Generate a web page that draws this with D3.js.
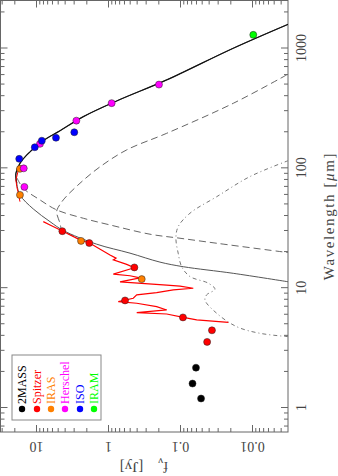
<!DOCTYPE html>
<html>
<head>
<meta charset="utf-8">
<script src="https://cdn.jsdelivr.net/npm/d3@7"></script>
<style>
body { margin: 0; background: #fff; }
svg { display: block; }
</style>
</head>
<body>
<svg id="chart" width="338" height="476"></svg>
<script>
// photometry, [wavelength um, flux Jy]
var twomass  = [[1.2, 0.051], [1.6, 0.067], [2.17, 0.060]];
var spitzer  = [[3.56, 0.042], [4.45, 0.036], [5.7, 0.091], [7.9, 0.58], [14.9, 0.43], [23.8, 1.82], [29.9, 4.31]];
var iras     = [[11.9, 0.34], [24.8, 2.37], [60, 16.7], [99, 16.7]];
var herschel = [[70, 14.5], [100, 14.8], [160, 8.8], [250, 2.75], [350, 0.89], [500, 0.196]];
var iso      = [[120, 17.1], [150, 10.4], [170, 8.3], [180, 5.28], [200, 2.94]];
var iram     = [[1300, 0.0096]];

var legendNames  = ['2MASS', 'Spitzer', 'IRAS', 'Herschel', 'ISO', 'IRAM'];
var legendColors = ['#000000', '#ff0000', '#ff8000', '#ff00ff', '#0000ff', '#00ff00'];

// spectra
var irsSpec = [[35.9, 7.92], [33.7, 6.39], [30.0, 4.31], [25.3, 2.45], [23.7, 1.78], [18.9, 0.938], [17.8, 0.774],
  [17.2, 0.844], [15.8, 0.55], [14.8, 0.431], [13.1, 0.844], [12.7, 0.495], [12.2, 0.36], [11.3, 0.681],
  [10.6, 0.153], [10.4, 0.1], [9.98, 0.0654], [9.66, 0.124], [9.17, 0.211], [8.78, 0.399], [8.24, 0.446],
  [7.71, 0.72], [7.48, 0.399], [7.01, 0.211], [6.58, 0.153], [6.24, 0.399], [6.09, 0.153], [5.71, 0.09],
  [5.43, 0.0586], [5.19, 0.0213]];
var farSpec = [[103, 17.6], [93.8, 17.8], [80, 19.0], [70.3, 18.5], [62, 17.6], [52.7, 16.7]];

// model curves
var modelSum = [[1596, 0.00313], [1006, 0.0182], [547, 0.153], [365, 0.757], [270, 2.20], [206, 4.64],
  [167, 8.33], [129, 13.5], [110, 16.7], [91, 19.0], [75, 18.5], [60, 16.7], [45.8, 10.9], [35.9, 6.39],
  [30.3, 4.18], [23.3, 1.44], [19.6, 0.495], [16.5, 0.190], [15.1, 0.090], [13.3, 0.0182], [11.3, 0.00313]];
var warmDust = [[602, 0.0033], [349, 0.0182], [196, 0.153], [142.5, 0.55], [103, 1.29], [75.1, 2.45],
  [54.5, 4.18], [45, 5.11], [42.4, 5.16], [34.8, 4.64], [30.6, 4.35], [26.8, 2.87]];
var coldDust = [[83.2, 18.4], [68.2, 15.0], [54.5, 8.8], [45, 5.16], [38.3, 2.20], [33.7, 0.938],
  [28.2, 0.261], [26.1, 0.1], [23.7, 0.0309], [19.8, 0.00313]];
var hotDisk = [[116, 0.00313], [85.3, 0.0107], [58, 0.0309], [42.2, 0.0727], [32.6, 0.106], [26.1, 0.114],
  [19.6, 0.106], [15.1, 0.0947], [12.5, 0.0727], [11.0, 0.0404], [9.8, 0.0327], [8.8, 0.0426],
  [7.97, 0.045], [6.17, 0.0309], [4.77, 0.0163], [4.2, 0.00774], [3.94, 0.00313]];

var lamTicks  = [1, 10, 100, 1000];
var fluxTicks = [10, 1, 0.1, 0.01];

var serif = "'Liberation Serif', 'Times New Roman', 'DejaVu Serif', serif";

var svg = d3.select('#chart');
// drawn as a normal plot 476 wide, 338 tall, then turned a quarter turn
var g = svg.append('g').attr('transform', 'translate(0,476) rotate(-90)');

var L = 44, R = 475.5, T = 0.5, B = 288;
var x = d3.scaleLog().domain([1, 1000]).range([68, 427.5]);
var y = d3.scaleLog().domain([10, 0.01]).range([36, 252]);

var minorLam = [];
[0.1, 1, 10, 100, 1000].forEach(function (d) {
    for (var k = 2; k < 10; k++) minorLam.push(d * k);
});
var minorFlux = [];
[0.001, 0.01, 0.1, 1, 10].forEach(function (d) {
    for (var k = 2; k < 10; k++) minorFlux.push(d * k);
});
minorLam = minorLam.filter(function (d) { return x(d) > L && x(d) < R; });
minorFlux = minorFlux.filter(function (d) { return y(d) > T && y(d) < B; });

g.append('defs').append('clipPath').attr('id', 'clip')
    .append('rect').attr('x', L).attr('y', T).attr('width', R - L).attr('height', B - T);

var axisColor = '#666';
function styleAxis(sel) {
    sel.select('.domain').remove();
    sel.selectAll('line').attr('stroke', axisColor);
}

// bottom (wavelength)
g.append('g').attr('transform', 'translate(0,' + B + ')')
    .call(d3.axisBottom(x).tickValues(lamTicks).tickSize(-7).tickPadding(8).tickFormat(d3.format('~g')))
    .call(styleAxis)
    .selectAll('text').attr('font-family', serif).attr('font-size', 14).attr('fill', '#444');
g.append('g').attr('transform', 'translate(0,' + B + ')')
    .call(d3.axisBottom(x).tickValues(minorLam).tickSize(-4).tickFormat(''))
    .call(styleAxis);
// top
g.append('g').attr('transform', 'translate(0,' + T + ')')
    .call(d3.axisTop(x).tickValues(lamTicks).tickSize(-7).tickFormat(''))
    .call(styleAxis);
g.append('g').attr('transform', 'translate(0,' + T + ')')
    .call(d3.axisTop(x).tickValues(minorLam).tickSize(-4).tickFormat(''))
    .call(styleAxis);
// left (flux)
var yl = g.append('g').attr('transform', 'translate(' + L + ',0)')
    .call(d3.axisLeft(y).tickValues(fluxTicks).tickSize(-7).tickFormat(d3.format('~g')))
    .call(styleAxis);
yl.selectAll('text')
    .attr('x', 0).attr('y', -10).attr('dy', null)
    .attr('transform', 'rotate(-90)')
    .attr('text-anchor', 'middle')
    .attr('font-family', serif).attr('font-size', 14).attr('fill', '#444');
g.append('g').attr('transform', 'translate(' + L + ',0)')
    .call(d3.axisLeft(y).tickValues(minorFlux).tickSize(-4).tickFormat(''))
    .call(styleAxis);
// right
g.append('g').attr('transform', 'translate(' + R + ',0)')
    .call(d3.axisRight(y).tickValues(fluxTicks).tickSize(-7).tickFormat(''))
    .call(styleAxis);
g.append('g').attr('transform', 'translate(' + R + ',0)')
    .call(d3.axisRight(y).tickValues(minorFlux).tickSize(-4).tickFormat(''))
    .call(styleAxis);

g.append('rect').attr('x', L).attr('y', T).attr('width', R - L).attr('height', B - T)
    .attr('fill', 'none').attr('stroke', axisColor).attr('stroke-width', 1);

// titles
var xt = g.append('text').attr('x', 260).attr('y', 334).attr('text-anchor', 'middle')
    .attr('font-family', serif).attr('font-size', 15).attr('letter-spacing', 1.6).attr('fill', '#444');
xt.append('tspan').text('Wavelength [');
xt.append('tspan').attr('font-style', 'italic').text('\u03bc');
xt.append('tspan').text('m]');

var yt = g.append('text').attr('transform', 'translate(14,144) rotate(-90)').attr('text-anchor', 'middle')
    .attr('font-family', serif).attr('font-size', 15).attr('fill', '#444');
yt.append('tspan').text('f');
yt.append('tspan').attr('font-size', 11).attr('dy', 4).text('\u03bd');
yt.append('tspan').attr('dy', -4).text('\u2003[Jy]');

// curves
var plot = g.append('g').attr('clip-path', 'url(#clip)');
var smooth = d3.line().x(function (d) { return x(d[0]); }).y(function (d) { return y(d[1]); })
    .curve(d3.curveCatmullRom);
var straight = d3.line().x(function (d) { return x(d[0]); }).y(function (d) { return y(d[1]); });

plot.append('path').datum(hotDisk).attr('d', smooth).attr('fill', 'none')
    .attr('stroke', '#777').attr('stroke-width', 1).attr('stroke-dasharray', '4,3,1,3');
plot.append('path').datum(warmDust).attr('d', smooth).attr('fill', 'none')
    .attr('stroke', '#666').attr('stroke-width', 1).attr('stroke-dasharray', '7,4');
plot.append('path').datum(coldDust).attr('d', smooth).attr('fill', 'none')
    .attr('stroke', '#666').attr('stroke-width', 1).attr('stroke-dasharray', '7,4');
plot.append('path').datum(modelSum).attr('d', smooth).attr('fill', 'none')
    .attr('stroke', '#555').attr('stroke-width', 1);
plot.append('path').datum(modelSum.filter(function (d) { return d[0] >= 75; })).attr('d', smooth)
    .attr('fill', 'none').attr('stroke', '#111').attr('stroke-width', 1.2);

plot.append('path').datum(irsSpec).attr('d', straight).attr('fill', 'none')
    .attr('stroke', '#ff0000').attr('stroke-width', 1.2);
plot.append('path').datum(farSpec).attr('d', straight).attr('fill', 'none')
    .attr('stroke', '#ff0000').attr('stroke-width', 1);

// points
var sets = [twomass, spitzer, iras, herschel, iso, iram];
sets.forEach(function (s, i) {
    plot.selectAll(null).data(s).enter().append('circle')
        .attr('cx', function (d) { return x(d[0]); })
        .attr('cy', function (d) { return y(d[1]); })
        .attr('r', 3.5)
        .attr('fill', legendColors[i]).attr('stroke', '#222').attr('stroke-width', 0.5);
});

// legend
var lg = g.append('g');
lg.append('rect').attr('x', 56).attr('y', 12).attr('width', 65).attr('height', 89)
    .attr('fill', '#fff').attr('stroke', '#888').attr('stroke-width', 1);
var rows = [22, 37, 51, 65, 80, 94];
legendNames.forEach(function (n, i) {
    lg.append('circle').attr('cx', 67).attr('cy', rows[i]).attr('r', 3.2).attr('fill', legendColors[i]);
    lg.append('text').attr('x', 72).attr('y', rows[i]).attr('dy', '0.35em')
        .attr('font-family', serif).attr('font-size', 12).attr('fill', legendColors[i]).text(n);
});
</script>
</body>
</html>
